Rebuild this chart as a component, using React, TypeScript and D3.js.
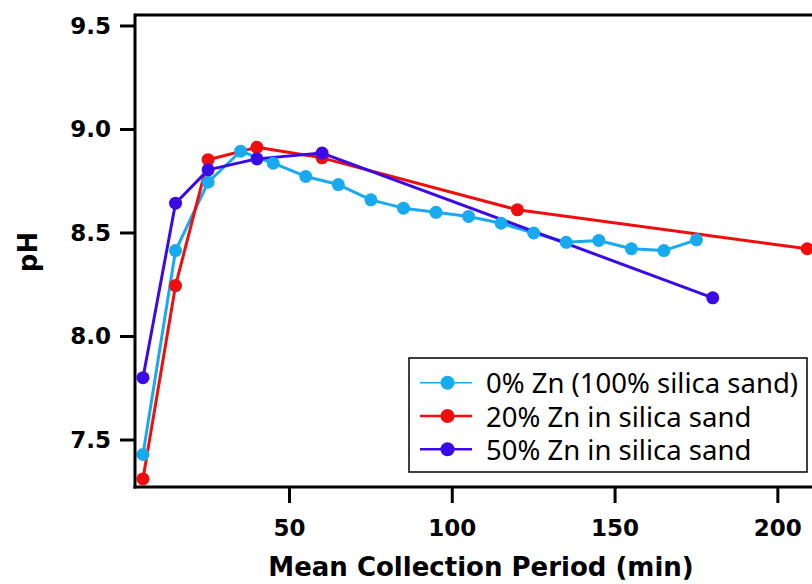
import React from "react";
import * as d3 from "d3";

const seriesNames = ["0% Zn (100% silica sand)", "20% Zn in silica sand", "50% Zn in silica sand"];
const seriesColors = ["#18aaf0", "#f20d0d", "#3a0ae8"];

const zn0X = [5, 15, 25, 35, 45, 55, 65, 75, 85, 95, 105, 115, 125, 135, 145, 155, 165, 175];
const zn0Y = [7.43, 8.415, 8.745, 8.895, 8.837, 8.773, 8.734, 8.66, 8.62, 8.6, 8.58, 8.547, 8.5, 8.455, 8.464, 8.424, 8.415, 8.467];

const zn20X = [5, 15, 25, 40, 60, 120, 209];
const zn20Y = [7.312, 8.246, 8.854, 8.914, 8.863, 8.612, 8.424];

const zn50X = [5, 15, 25, 40, 60, 180];
const zn50Y = [7.801, 8.644, 8.805, 8.858, 8.886, 8.187];

const xTicks = [50, 100, 150, 200];
const yTicks = [7.5, 8.0, 8.5, 9.0, 9.5];

const W = 812;
const H = 584;
const left = 135;
const right = 814;
const top = 15;
const bottom = 487;

export default function App() {
  const x = d3.scaleLinear().domain([2.55, 211.1]).range([left, right]);
  const y = d3.scaleLinear().domain([7.273, 9.553]).range([bottom, top]);

  const series = [
    { xs: zn0X, ys: zn0Y },
    { xs: zn20X, ys: zn20Y },
    { xs: zn50X, ys: zn50Y },
  ];
  const line = d3
    .line<[number, number]>()
    .x((d) => x(d[0]))
    .y((d) => y(d[1]));

  const boldFont = "'DejaVu Sans', sans-serif";
  const legendX = 409;
  const legendY = 358;
  const legendW = 398;
  const legendH = 114;
  const rowY = [382.7, 416, 449.3];
  const legendLineW = [1.5, 2.5, 2.5];

  return (
    <svg
      width={W}
      height={H}
      style={{ position: "absolute", left: 0, top: 0, background: "#fff" }}
      xmlns="http://www.w3.org/2000/svg"
    >
      <rect x={0} y={0} width={W} height={H} fill="#fff" />
      {series.map((s, i) => (
        <path
          key={"l" + i}
          d={line(s.xs.map((v, j) => [v, s.ys[j]] as [number, number])) || ""}
          fill="none"
          stroke={seriesColors[i]}
          strokeWidth={3}
          strokeLinejoin="round"
        />
      ))}
      {series.map((s, i) =>
        s.xs.map((v, j) => (
          <circle key={"c" + i + "-" + j} cx={x(v)} cy={y(s.ys[j])} r={6.5} fill={seriesColors[i]} />
        ))
      )}
      <line x1={left} x2={W + 5} y1={top} y2={top} stroke="#000" strokeWidth={3} />
      <line x1={left} x2={left} y1={top - 1.5} y2={bottom + 1.5} stroke="#000" strokeWidth={3} />
      <line x1={left - 1.5} x2={W + 5} y1={bottom} y2={bottom} stroke="#000" strokeWidth={3} />
      {yTicks.map((t) => (
        <g key={"yt" + t}>
          <line x1={left - 15} x2={left} y1={y(t)} y2={y(t)} stroke="#000" strokeWidth={3} />
          <text
            x={111}
            y={y(t)}
            textAnchor="end"
            dominantBaseline="central"
            fontFamily={boldFont}
            fontWeight="bold"
            fontSize={23}
            fill="#000"
          >
            {t.toFixed(1)}
          </text>
        </g>
      ))}
      {xTicks.map((t) => (
        <g key={"xt" + t}>
          <line x1={x(t)} x2={x(t)} y1={bottom} y2={bottom + 16} stroke="#000" strokeWidth={3} />
          <text
            x={x(t)}
            y={536}
            textAnchor="middle"
            fontFamily={boldFont}
            fontWeight="bold"
            fontSize={23}
            fill="#000"
          >
            {t}
          </text>
        </g>
      ))}
      <text
        x={481}
        y={576}
        textAnchor="middle"
        fontFamily={boldFont}
        fontWeight="bold"
        fontSize={26}
        fill="#000"
      >
        Mean Collection Period (min)
      </text>
      <text
        transform="translate(28,252) rotate(-90)"
        textAnchor="middle"
        dominantBaseline="central"
        fontFamily={boldFont}
        fontWeight="bold"
        fontSize={26}
        fill="#000"
      >
        pH
      </text>
      <rect x={legendX} y={legendY} width={legendW} height={legendH} fill="#fff" stroke="#000" strokeWidth={1.5} />
      {seriesNames.map((name, i) => (
        <g key={"lg" + i}>
          <line x1={420} x2={472} y1={rowY[i]} y2={rowY[i]} stroke={seriesColors[i]} strokeWidth={legendLineW[i]} />
          <circle cx={447.5} cy={rowY[i]} r={7} fill={seriesColors[i]} />
          <text
            x={486}
            y={rowY[i]}
            dominantBaseline="central"
            fontFamily="'Noto Sans', sans-serif"
            fontSize={27.5}
            fill="#000"
          >
            {name}
          </text>
        </g>
      ))}
    </svg>
  );
}
